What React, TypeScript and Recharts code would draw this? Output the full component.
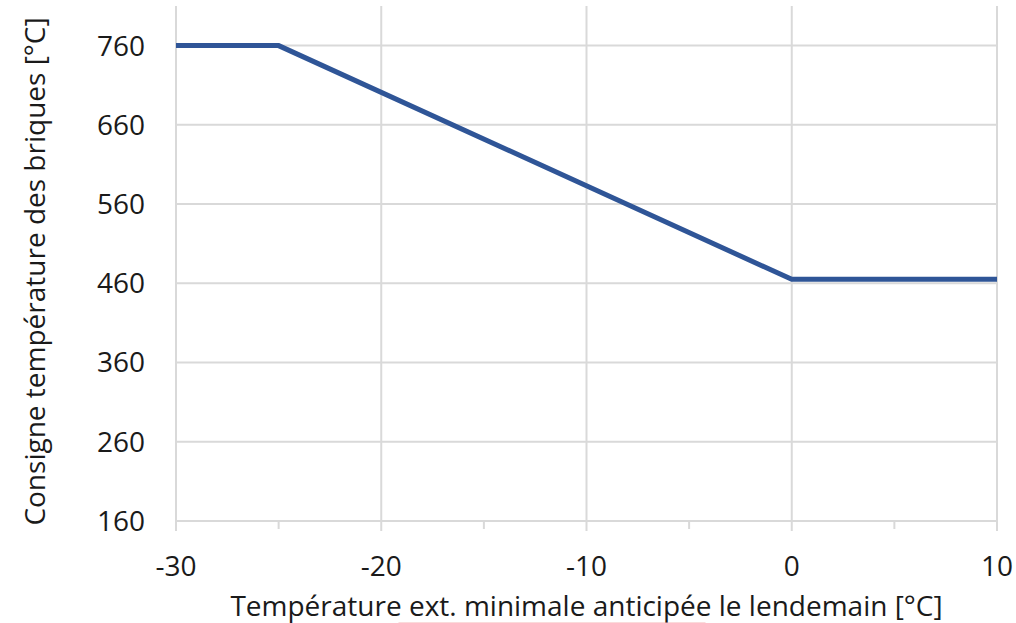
import { LineChart, Line, XAxis, YAxis, CartesianGrid } from 'recharts';

// Consigne de température des briques selon la température ext. anticipée
const tempExt = [-30, -25, 0, 10];
const consigne = [760, 760, 465, 465];

const xTicks = [-30, -25, -20, -15, -10, -5, 0, 5, 10];
const xMajor = [-30, -20, -10, 0, 10];
const yTicks = [160, 260, 360, 460, 560, 660, 760];
const yGrid = [260, 360, 460, 560, 660, 760];

const data = tempExt.map((t, i) => ({ t, v: consigne[i] }));

const FONT = '"Open Sans", sans-serif';
const TEXT = '#1a1a1a';
const GRID = '#d9d9d9';

const XTick = (props: any) => {
  const { x, y, payload } = props;
  const major = xMajor.includes(payload.value);
  return (
    <g>
      <line x1={x} x2={x} y1={y} y2={y + (major ? 10 : 8)} stroke={GRID} strokeWidth={2} />
      {major && (
        <text x={x} y={y + 55} textAnchor="middle" fill={TEXT} fontSize={28} fontFamily={FONT}>
          {payload.value}
        </text>
      )}
    </g>
  );
};

const XLabel = (props: any) => {
  const { viewBox } = props;
  const cx = viewBox.x + viewBox.width / 2;
  const y = viewBox.y + 95;
  return (
    <g>
      <text x={cx} y={y} textAnchor="middle" fill={TEXT} fontSize={28} fontFamily={FONT}>
        Température ext. minimale anticipée le lendemain [°C]
      </text>
      <line x1={cx - 188} x2={cx + 119} y1={y + 7} y2={y + 7} stroke="#f4b6b6" strokeWidth={1} />
    </g>
  );
};

const YLabel = (props: any) => {
  const { viewBox } = props;
  const cy = viewBox.y + viewBox.height / 2 + 8;
  const x = 45;
  return (
    <text
      x={x}
      y={cy}
      transform={`rotate(-90, ${x}, ${cy})`}
      textAnchor="middle"
      fill={TEXT}
      fontSize={28}
      fontFamily={FONT}
    >
      Consigne température des briques [°C]
    </text>
  );
};

export default function App() {
  return (
    <div style={{ position: 'absolute', left: 0, top: 0, background: '#fff' }}>
      <LineChart width={1016} height={623} data={data} margin={{ top: 6, right: 19, left: 0, bottom: 0 }}>
        <CartesianGrid
          horizontalValues={yGrid}
          verticalValues={xMajor}
          stroke={GRID}
          strokeWidth={2}
        />
        <XAxis
          dataKey="t"
          type="number"
          domain={[-30, 10]}
          ticks={xTicks}
          interval={0}
          height={102}
          tickSize={0}
          tickMargin={0}
          axisLine={{ stroke: GRID, strokeWidth: 2 }}
          tick={<XTick />}
          label={<XLabel />}
        />
        <YAxis
          type="number"
          domain={[160, 810]}
          ticks={yTicks}
          interval={0}
          width={176}
          axisLine={false}
          tickLine={false}
          tickSize={0}
          tickMargin={31}
          tick={{ fill: TEXT, fontSize: 28, fontFamily: FONT }}
          label={<YLabel />}
        />
        <Line
          type="linear"
          dataKey="v"
          stroke="#2f5597"
          strokeWidth={5}
          dot={false}
          isAnimationActive={false}
        />
      </LineChart>
    </div>
  );
}
